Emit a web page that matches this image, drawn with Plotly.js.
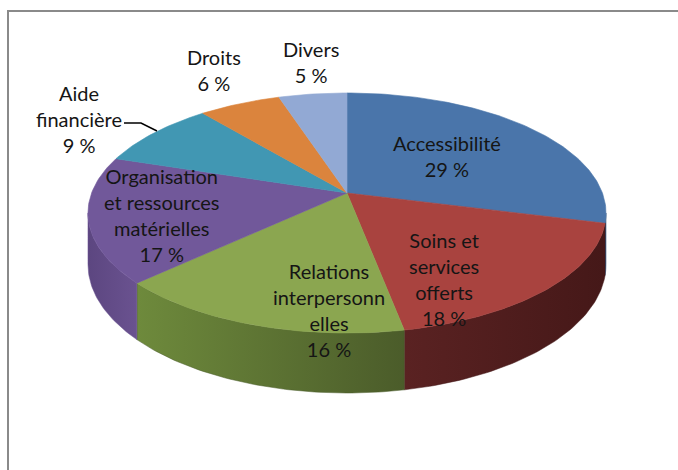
<!DOCTYPE html>
<html><head><meta charset="utf-8">
<script src="https://cdn.plot.ly/plotly-3.0.1.min.js"></script>
<style>html,body{margin:0;padding:0;background:#fff}</style>
</head><body><div id="chart" style="width:678px;height:470px"></div>
<script>
// ---- data ----
const categories = ["Accessibilité","Soins et services offerts","Relations interpersonnelles","Organisation et ressources matérielles","Aide financière","Droits","Divers"];
const values = [29, 18, 16, 17, 9, 6, 5];
const labelLines = ["Accessibilité","Soins et<br>services<br>offerts","Relations<br>interpersonn<br>elles","Organisation<br>et ressources<br>matérielles","Aide<br>financière","Droits","Divers"];

// ---- style ----
const topColors = ["#4A75AA","#A9433F","#8BA650","#71589A","#4197B3","#DB843D","#92A9D4"];
const wallColors = [["#2F4C70","#2F4C70"],["#5A2222","#451818"],["#6E8A3C","#4B5C2A"],["#5C4680","#6A5290"],["#2C6E82","#2C6E82"],["#9C5E2A","#9C5E2A"],["#6A7EA0","#6A7EA0"]];
const labelPos = [[447,156],[444,279],[329,310],[161,215],[79,119],[214,70],[311,62]];
const G = {cx:347, cy:193, A:255.4, B:116.7, p:1/6, H:50};

function proj(phi, r){
  const u = r*Math.sin(phi), v = -r*Math.cos(phi);
  const d = 1 - G.p*v;
  return {x: G.cx + G.A*u/d, y: G.cy + G.B*v/d, d: d};
}
function arc(a0, a1){
  const pts = [];
  const n = Math.max(2, Math.ceil(Math.abs(a1-a0)/(Math.PI/180)));
  for(let k=0;k<=n;k++){ pts.push(proj(a0+(a1-a0)*k/n, 1)); }
  return pts;
}

const total = values.reduce((s,v)=>s+v,0);
const starts = [], ends = [];
let acc = 0;
values.forEach(v=>{ starts.push(acc/total*2*Math.PI); acc+=v; ends.push(acc/total*2*Math.PI); });

const visLo = Math.acos(-G.p), visHi = 2*Math.PI - Math.acos(-G.p);
const traces = [];
// side walls
values.forEach((v,i)=>{
  const a0 = Math.max(starts[i], visLo), a1 = Math.min(ends[i], visHi);
  if(a1 <= a0) return;
  const top = arc(a0, a1);
  const bot = top.slice().reverse().map(p=>({x:p.x, y:p.y + G.H/p.d}));
  const pts = top.concat(bot); pts.push(top[0]);
  traces.push({type:'scatter', mode:'lines', x:pts.map(p=>p.x), y:pts.map(p=>p.y),
    fill:'toself', fillcolor: wallColors[i][0],
    fillgradient:{type:'horizontal', colorscale:[[0,wallColors[i][0]],[1,wallColors[i][1]]]},
    line:{width:0.5, color:wallColors[i][1]}, hoverinfo:'skip', showlegend:false, name:categories[i]});
});
// top faces
values.forEach((v,i)=>{
  const c = proj(0,0);
  const pts = [c].concat(arc(starts[i], ends[i])); pts.push(c);
  traces.push({type:'scatter', mode:'lines', x:pts.map(p=>p.x), y:pts.map(p=>p.y),
    fill:'toself', fillcolor: topColors[i], line:{width:0.6, color:topColors[i]},
    hoverinfo:'skip', showlegend:false, name:categories[i]});
});

const annotations = values.map((v,i)=>({
  x: labelPos[i][0], y: labelPos[i][1], xref:'x', yref:'y', showarrow:false,
  text: labelLines[i] + '<br>' + v + ' %', align:'center', xanchor:'center', yanchor:'middle',
  font:{family:'Lato, Calibri, sans-serif', size:20, color:'#151515'}
}));

const layout = {
  width:678, height:470, autosize:false, margin:{l:0,r:0,t:0,b:0},
  paper_bgcolor:'#fff', plot_bgcolor:'#fff', showlegend:false,
  xaxis:{range:[0,678], visible:false, fixedrange:true},
  yaxis:{range:[470,0], visible:false, fixedrange:true},
  annotations: annotations,
  shapes:[
    {type:'rect', xref:'x', yref:'y', x0:8, y0:11, x1:720, y1:520, line:{color:'#8A8A8A', width:2}, layer:'below'},
    {type:'path', xref:'x', yref:'y', path:'M 124 123 L 141 123 L 157 131', line:{color:'#000', width:1.5}}
  ]
};
Plotly.newPlot('chart', traces, layout, {staticPlot:true, displayModeBar:false});
</script>
</body></html>
